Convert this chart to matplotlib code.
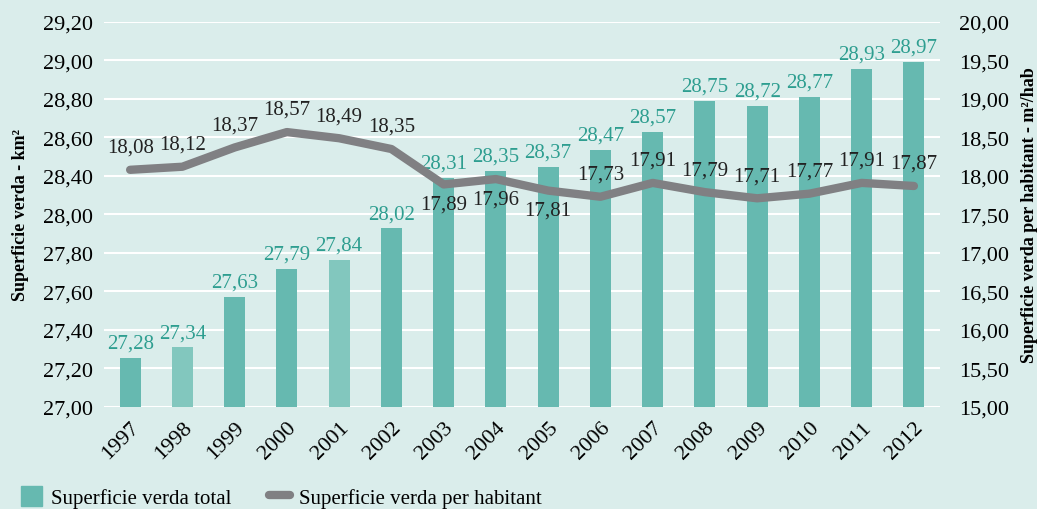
import numpy as np
import matplotlib
matplotlib.use('Agg')
import matplotlib.pyplot as plt
from matplotlib.patches import Patch
from matplotlib.lines import Line2D

years = ['1997', '1998', '1999', '2000', '2001', '2002', '2003', '2004',
         '2005', '2006', '2007', '2008', '2009', '2010', '2011', '2012']
total = [27.28, 27.34, 27.63, 27.79, 27.84, 28.02, 28.31, 28.35,
         28.37, 28.47, 28.57, 28.75, 28.72, 28.77, 28.93, 28.97]
per_hab = [18.08, 18.12, 18.37, 18.57, 18.49, 18.35, 17.89, 17.96,
           17.81, 17.73, 17.91, 17.79, 17.71, 17.77, 17.91, 17.87]
# left axis: 11 evenly spaced gridlines from 27 to 29.2, labels as printed
left_labels = ['27,00', '27,20', '27,40', '27,60', '27,80', '28,00',
               '28,40', '28,60', '28,80', '29,00', '29,20']
right_ticks = [15.0, 15.5, 16.0, 16.5, 17.0, 17.5, 18.0, 18.5, 19.0, 19.5, 20.0]


def fmt(v):
    return '{:.2f}'.format(v).replace('.', ',')


def main():
    plt.rcParams['font.family'] = ['Liberation Serif', 'DejaVu Serif']
    bg = '#daedeb'
    bar_c = '#66b9b0'
    bar_light = '#82c7be'
    green_txt = '#2e9e90'
    grey = '#808083'

    fig = plt.figure(figsize=(10.37, 5.10), dpi=100, facecolor=bg)
    ax = fig.add_axes([0.1003, 0.2, 0.8062, 0.755])
    ax.set_facecolor(bg)
    x = np.arange(len(years))

    colors = [bar_light if y in ('1998', '2001') else bar_c for y in years]
    ax.bar(x, [t - 27.0 for t in total], bottom=27.0, width=0.4,
           color=colors, zorder=2)
    ax.set_ylim(27.0, 29.2)
    ax.set_xlim(-0.5, 15.5)
    ax.set_yticks(np.linspace(27.0, 29.2, len(left_labels)))
    ax.set_yticklabels(left_labels, fontsize=16)
    ax.yaxis.grid(True, color='white', linewidth=1.5, zorder=0)
    ax.set_axisbelow(True)
    ax.set_xticks(x)
    ax.set_xticklabels(years, rotation=45, ha='right', va='top',
                       rotation_mode='anchor', fontsize=16)
    ax.tick_params(length=0, pad=8)
    for s in ax.spines.values():
        s.set_visible(False)
    ax.set_ylabel('Superficie verda - km²', fontsize=13, fontweight='bold',
                  labelpad=10)

    for xi, t in zip(x, total):
        ax.text(xi, t + 0.03, fmt(t), ha='center', va='bottom',
                fontsize=15, color=green_txt, zorder=4)

    ax2 = ax.twinx()
    ax2.plot(x, per_hab, color=grey, linewidth=6, solid_capstyle='round',
             zorder=3)
    ax2.set_ylim(15.0, 20.0)
    ax2.set_yticks(right_ticks)
    ax2.set_yticklabels([fmt(v) for v in right_ticks], fontsize=16)
    ax2.tick_params(length=0, pad=14)
    for s in ax2.spines.values():
        s.set_visible(False)
    ax2.set_ylabel('Superficie verda per habitant - m²/hab', fontsize=13,
                   fontweight='bold', labelpad=8)

    below = ('2003', '2004', '2005')
    for xi, y, v in zip(x, years, per_hab):
        if y in below:
            ax2.text(xi, v - 0.13, fmt(v), ha='center', va='top',
                     fontsize=15, color='#222222', zorder=5)
        else:
            ax2.text(xi, v + 0.17, fmt(v), ha='center', va='bottom',
                     fontsize=15, color='#222222', zorder=5)

    handles = [Patch(facecolor=bar_c, edgecolor=bar_c),
               Line2D([0], [0], color=grey, linewidth=6, solid_capstyle='round')]
    fig.legend(handles, ['Superficie verda total', 'Superficie verda per habitant'],
               loc='lower left', bbox_to_anchor=(0.002, -0.035), ncol=2,
               frameon=False, fontsize=15, handlelength=1.0, handleheight=1.1,
               columnspacing=1.8, handletextpad=0.45, borderaxespad=0.5)

    fig.savefig('out.png', dpi=100, facecolor=bg)


if __name__ == '__main__':
    main()
